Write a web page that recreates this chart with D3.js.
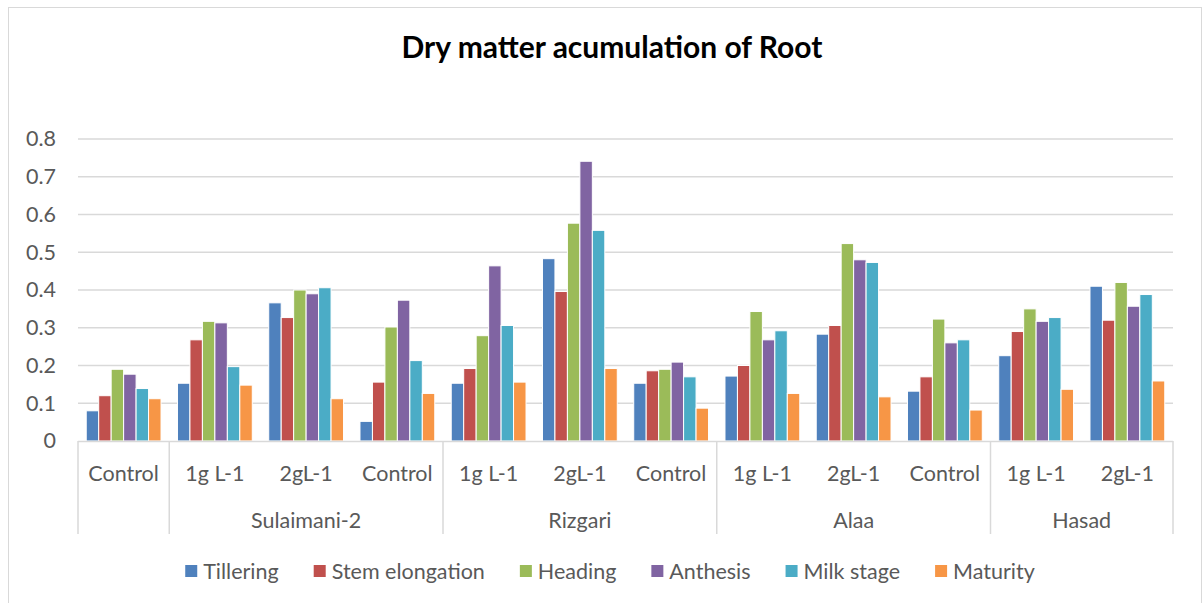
<!DOCTYPE html>
<html>
<head>
<meta charset="utf-8">
<script src="https://cdn.jsdelivr.net/npm/d3@7"></script>
<style>
  body { margin: 0; background: #fff; }
  text { font-family: Lato, "Open Sans", sans-serif; fill: #595959; }
</style>
</head>
<body>
<div id="chart"></div>
<script>
// treatments along the x axis and the variety each one sits under
var categories = ["Control", "1g L-1", "2gL-1", "Control", "1g L-1", "2gL-1",
  "Control", "1g L-1", "2gL-1", "Control", "1g L-1", "2gL-1"];
var groupNames = ["", "Sulaimani-2", "Rizgari", "Alaa", "Hasad"];
var groupSizes = [1, 3, 3, 3, 2];

var seriesNames = ["Tillering", "Stem elongation", "Heading", "Anthesis", "Milk stage", "Maturity"];
var seriesColors = ["#4F81BD", "#C0504D", "#9BBB59", "#8064A2", "#4BACC6", "#F79646"];

var tillering = [0.08, 0.153, 0.366, 0.052, 0.153, 0.483, 0.153, 0.172, 0.283, 0.132, 0.226, 0.41];
var stemElongation = [0.12, 0.268, 0.327, 0.156, 0.192, 0.396, 0.186, 0.2, 0.306, 0.17, 0.29, 0.32];
var heading = [0.19, 0.317, 0.4, 0.302, 0.279, 0.577, 0.19, 0.343, 0.523, 0.323, 0.35, 0.42];
var anthesis = [0.177, 0.313, 0.39, 0.373, 0.464, 0.741, 0.209, 0.268, 0.48, 0.26, 0.317, 0.357];
var milkStage = [0.139, 0.197, 0.406, 0.213, 0.306, 0.558, 0.17, 0.292, 0.473, 0.268, 0.327, 0.388];
var maturity = [0.112, 0.148, 0.112, 0.126, 0.156, 0.192, 0.087, 0.126, 0.117, 0.082, 0.137, 0.159];

var yTicks = [0, 0.1, 0.2, 0.3, 0.4, 0.5, 0.6, 0.7, 0.8];

var seriesValues = [tillering, stemElongation, heading, anthesis, milkStage, maturity];

var svgWidth = 1203;
var svgHeight = 603;
var plot = { left: 78, right: 1173, top: 139, bottom: 441 };
var labelSize = "21.5px";

var svg = d3.select("#chart")
  .append("svg")
  .attr("width", svgWidth)
  .attr("height", svgHeight);

// chart border
svg.append("rect")
  .attr("x", 8.5)
  .attr("y", 7.5)
  .attr("width", 1193)
  .attr("height", 620)
  .attr("fill", "none")
  .attr("stroke", "#d9d9d9")
  .attr("stroke-width", 1);

// title
svg.append("text")
  .attr("x", 612)
  .attr("y", 58)
  .attr("text-anchor", "middle")
  .style("font-size", "30px")
  .style("font-weight", "bold")
  .style("fill", "#000")
  .text("Dry matter acumulation of Root");

var x0 = d3.scaleBand()
  .domain(d3.range(categories.length))
  .range([plot.left, plot.right])
  .paddingInner(0)
  .paddingOuter(0);

var x1 = d3.scaleBand()
  .domain(d3.range(seriesNames.length))
  .range([0, x0.bandwidth()])
  .paddingOuter(0.66)
  .paddingInner(0);

var y = d3.scaleLinear()
  .domain([0, 0.8])
  .range([plot.bottom, plot.top]);

// gridlines
svg.append("g")
  .selectAll("line")
  .data(yTicks.slice(1))
  .enter()
  .append("line")
  .attr("x1", plot.left)
  .attr("x2", plot.right)
  .attr("y1", d => y(d))
  .attr("y2", d => y(d))
  .attr("stroke", "#d9d9d9")
  .attr("stroke-width", 1.3);

// y axis labels
var leftAxis = d3.axisLeft(y)
  .tickValues(yTicks)
  .tickFormat(d => d === 0 ? "0" : d3.format(".1f")(d))
  .tickSize(0)
  .tickPadding(22);

var yAxis = svg.append("g")
  .attr("transform", `translate(${plot.left}, 0)`)
  .call(leftAxis);
yAxis.select(".domain").remove();
yAxis.selectAll("text")
  .style("font-size", labelSize)
  .style("font-family", "Lato, sans-serif")
  .attr("fill", "#595959");

// bars
var barGroups = svg.append("g")
  .selectAll("g")
  .data(seriesValues)
  .enter()
  .append("g")
  .attr("fill", (d, i) => seriesColors[i]);

barGroups.each(function(vals, si) {
  d3.select(this).selectAll("rect")
    .data(vals)
    .enter()
    .append("rect")
    .attr("x", (d, ci) => x0(ci) + x1(si))
    .attr("y", d => y(d))
    .attr("width", x1.bandwidth())
    .attr("height", d => y(0) - y(d))
    .attr("stroke", "#fff")
    .attr("stroke-width", 1);
});

// category axis
var axisG = svg.append("g");
axisG.append("line")
  .attr("x1", plot.left)
  .attr("x2", plot.right)
  .attr("y1", plot.bottom + 0.5)
  .attr("y2", plot.bottom + 0.5)
  .attr("stroke", "#d9d9d9")
  .attr("stroke-width", 1.5);

axisG.selectAll(".cat")
  .data(categories)
  .enter()
  .append("text")
  .attr("class", "cat")
  .attr("x", (d, i) => x0(i) + x0.bandwidth() / 2)
  .attr("y", 481)
  .attr("text-anchor", "middle")
  .style("font-size", labelSize)
  .text(d => d);

// group separators and labels
var starts = [0];
groupSizes.forEach(function(n, i) { starts.push(starts[i] + n); });

axisG.selectAll(".sep")
  .data(starts)
  .enter()
  .append("line")
  .attr("class", "sep")
  .attr("x1", d => d < categories.length ? x0(d) : plot.right)
  .attr("x2", d => d < categories.length ? x0(d) : plot.right)
  .attr("y1", plot.bottom)
  .attr("y2", 534)
  .attr("stroke", "#d9d9d9")
  .attr("stroke-width", 1.5);

axisG.selectAll(".grp")
  .data(groupNames)
  .enter()
  .append("text")
  .attr("class", "grp")
  .attr("x", function(d, i) {
    var a = x0(starts[i]);
    var b = starts[i + 1] < categories.length ? x0(starts[i + 1]) : plot.right;
    return (a + b) / 2;
  })
  .attr("y", 528)
  .attr("text-anchor", "middle")
  .style("font-size", labelSize)
  .text(d => d);

// legend
var legend = svg.append("g");
var items = legend.selectAll("g")
  .data(seriesNames)
  .enter()
  .append("g");

items.append("rect")
  .attr("width", 12)
  .attr("height", 12)
  .attr("y", 565)
  .attr("fill", (d, i) => seriesColors[i]);

items.append("text")
  .attr("x", 18)
  .attr("y", 579)
  .style("font-size", labelSize)
  .text(d => d);

var gap = 35;
var pos = 0;
var offsets = [];
items.each(function() {
  offsets.push(pos);
  pos += this.getBBox().width + gap;
});
var totalW = pos - gap;
var startX = 610 - totalW / 2;
items.attr("transform", (d, i) => `translate(${startX + offsets[i]}, 0)`);
</script>
</body>
</html>
